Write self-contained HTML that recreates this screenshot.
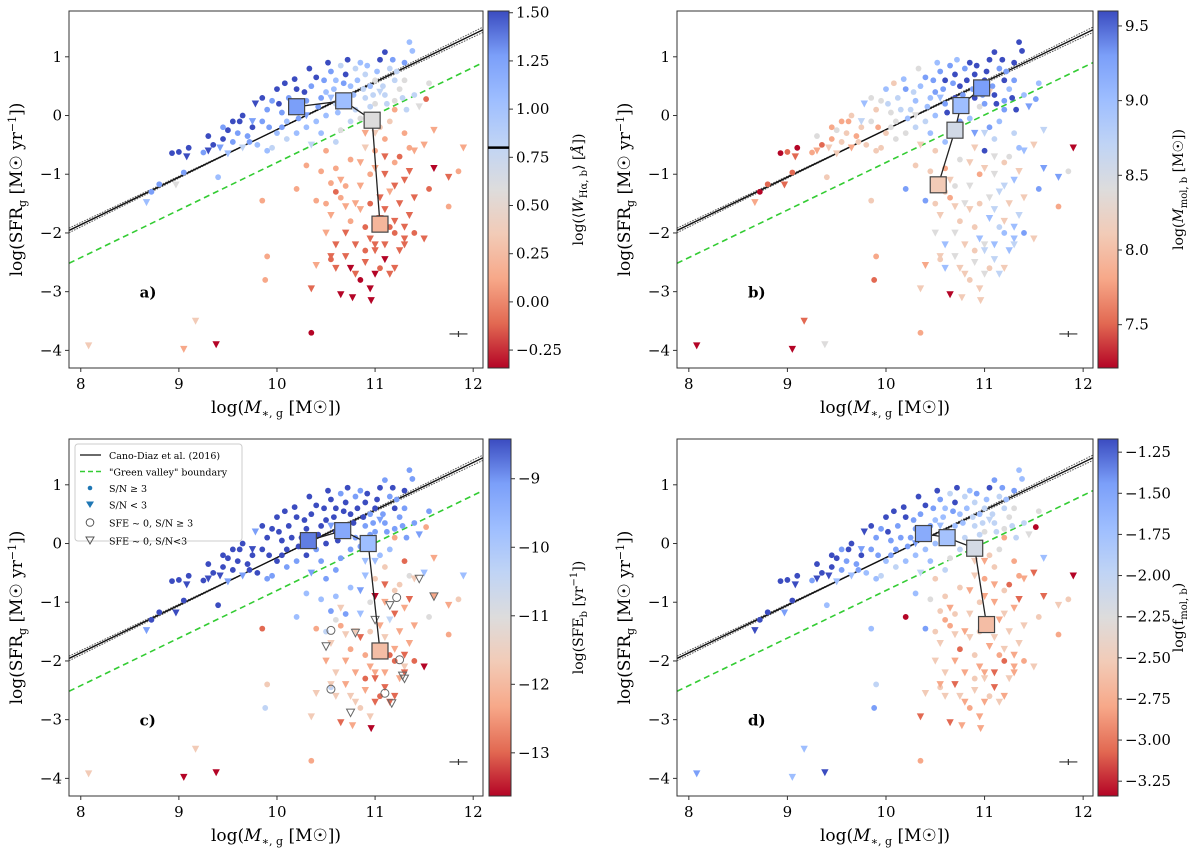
<!DOCTYPE html>
<html><head><meta charset="utf-8"><style>
html,body{margin:0;padding:0;background:#fff}
svg{display:block;font-family:"DejaVu Serif","Liberation Serif",serif}
</style></head><body>
<svg id="fig" width="1200" height="855" viewBox="0 0 1200 855" xmlns="http://www.w3.org/2000/svg"></svg>
<script>
// Shared galaxy positions: logMstar, logSFR, marker(0=circle,1=triangle)
const gx=[9.0,8.93,9.08,9.1,9.05,8.8,8.72,8.67,8.97,9.3,9.25,9.35,9.42,9.45,9.5,9.55,9.6,9.62,9.7,9.75,9.78,9.8,9.85,9.9,9.95,10.0,10.05,10.1,10.12,10.18,10.2,10.25,10.3,10.35,10.4,10.45,10.5,10.55,10.6,10.65,10.7,10.75,10.8,10.85,10.9,10.95,11.0,11.05,11.1,11.15,11.2,11.25,11.3,11.35,11.38,11.3,11.4,11.55,10.6,10.5,10.4,10.3,10.2,10.1,10.0,9.95,9.9,9.5,9.65,9.4,10.35,10.65,10.8,10.9,11.0,11.1,11.2,10.7,10.55,10.85,10.75,
11.0,11.05,11.1,11.15,11.2,11.3,11.35,11.25,11.4,11.5,11.6,11.55,11.75,11.85,11.9,11.6,11.52,10.5,10.6,10.65,10.7,10.75,10.85,10.9,10.95,10.5,10.55,10.6,10.65,10.7,10.75,10.8,10.85,10.9,10.95,11.0,11.05,11.1,11.15,11.2,11.25,11.3,11.35,11.4,11.2,11.1,11.0,10.5,10.55,10.6,10.7,10.75,10.8,10.85,10.9,10.95,11.0,11.05,11.1,11.15,11.2,11.3,10.55,10.4,10.35,10.65,10.77,10.96,11.5,11.75,10.4,10.2,9.9,9.88,9.85,10.3,10.55,10.45,
9.3,9.45,9.55,9.65,9.72,9.85,9.92,10.02,10.08,10.15,10.22,10.28,10.33,10.42,10.48,10.52,10.58,10.62,10.68,10.72,10.78,10.82,10.88,10.92,10.98,11.02,11.08,11.12,11.18,11.22,11.28,11.32,11.45,10.45,10.6,10.3,10.05,9.75,10.95,11.05,
10.9,11.0,11.1,11.2,11.3,11.25,11.15,11.05,10.95,10.85,10.8,10.9,11.0,11.1,11.2,11.3,10.7,10.6,11.4,11.35];
const gy=[-0.62,-0.64,-0.7,-0.55,-0.97,-1.17,-1.3,-1.48,-1.18,-0.6,-0.63,-0.5,-0.55,-0.4,-0.25,-0.45,-0.3,-0.1,-0.35,-0.2,0.2,-0.5,-0.1,0.1,0.25,0.45,0.05,-0.1,0.3,0.62,0.45,0.1,0.25,0.5,0.65,0.3,0.4,0.75,0.6,0.85,0.7,0.5,0.8,0.9,0.7,0.5,0.6,0.95,1.08,0.8,0.6,0.45,0.9,1.25,1.1,0.6,0.35,0.55,0.2,0.0,-0.1,-0.2,-0.3,-0.4,-0.3,-0.55,-0.6,-0.65,-0.55,-1.05,-0.5,-0.25,0.1,0.3,0.2,0.35,0.25,0.3,0.3,-0.05,-0.1,
-0.3,-0.2,-0.4,-0.1,0.1,-0.3,-0.55,-0.7,-0.6,-0.5,-0.9,-1.25,-1.05,-0.95,-0.55,-0.25,0.28,-0.6,-0.9,-1.1,-1.2,-0.75,-0.8,-0.55,-1.0,-1.5,-1.7,-1.3,-1.4,-1.55,-1.8,-1.5,-1.6,-1.9,-2.1,-2.2,-1.4,-1.6,-1.9,-2.0,-2.3,-2.1,-1.7,-2.0,-1.2,-0.7,-0.9,-2.0,-2.45,-2.6,-2.4,-2.6,-2.7,-2.8,-2.5,-2.95,-2.3,-2.6,-2.45,-2.7,-2.6,-2.2,-2.4,-2.55,-2.95,-3.05,-3.1,-3.15,-2.1,-1.55,-1.45,-1.25,-2.4,-2.8,-1.45,-0.85,-1.15,-0.95,
-0.35,-0.2,-0.1,0.0,-0.45,0.3,-0.2,0.2,0.55,0.1,-0.05,0.4,0.8,0.15,0.6,0.9,0.45,0.05,0.55,0.95,0.35,0.6,0.45,0.85,0.35,0.75,0.5,0.2,0.95,0.75,0.3,0.1,0.15,-0.3,-0.45,0.0,-0.2,-0.1,0.15,0.4,
-0.3,-0.6,-1.0,-0.8,-1.1,-1.5,-1.3,-1.75,-1.5,-1.2,-2.2,-2.3,-2.7,-2.2,-1.8,-1.9,-2.0,-2.2,-1.4,-0.95];
const gm=[0,0,1,0,0,0,0,1,1,1,0,0,1,0,0,0,0,0,0,0,1,0,0,0,0,0,0,0,0,0,0,0,0,0,0,0,0,0,0,0,0,0,0,0,0,0,0,0,0,0,0,0,0,0,0,0,0,0,0,0,0,0,0,0,0,0,0,1,1,0,1,0,0,0,0,0,0,0,1,0,0,
1,0,0,0,0,0,0,0,1,1,1,0,1,0,1,1,0,0,0,1,0,0,1,1,0,0,1,0,0,1,0,1,1,0,1,1,1,1,0,0,1,1,1,0,1,1,1,1,0,1,1,1,1,0,1,1,1,0,1,1,1,1,1,1,1,1,1,1,1,0,
0,0,0,0,0,0,0,0,0,0,0,0,0,0,0,0,0,0,0,0,0,0,0,0,0,0,0,0,0,0,0,0,0,0,0,0,0,0,0,0,
1,0,0,1,0,1,0,1,1,0,1,0,1,1,1,1,0,1,1,0];
// Colour levels per panel (0 = bottom of colourbar, 8 = top)
const ca=[8,8,8,8,7,7,7,6,4,8,7,8,7,8,8,7,7,8,7,8,8,6,7,7,7,8,7,6,7,8,8,7,7,7,8,7,6,7,6,5,8,6,5,6,5,6,4,8,8,5,5,4,7,6,6,4,5,4,5,6,6,6,6,5,6,5,6,6,5,6,5,4,5,5,4,5,4,6,6,4,5,
3,3,2,3,2,2,2,1,2,2,0,1,1,2,2,2,1,2,2,2,2,2,2,3,2,2,2,1,2,2,2,2,2,1,1,1,1,1,1,1,1,1,1,1,1,1,2,2,1,1,1,0,1,0,1,0,1,1,0,1,1,1,1,2,1,0,0,0,1,2,2,2,2,2,2,2,2,2,
8,7,8,8,7,8,7,8,8,7,7,8,8,7,7,8,6,6,7,8,6,6,5,6,5,6,5,5,7,5,5,5,4,6,5,7,7,7,5,5,
2,2,1,2,1,1,2,1,1,2,1,1,0,1,1,1,1,1,1,1];
const cb=[1,0,1,0,1,1,0,2,1,2,2,1,3,2,4,3,3,2,2,3,6,3,4,3,4,6,4,4,5,6,7,5,6,6,7,6,7,7,8,7,8,8,7,8,8,7,8,8,8,7,8,6,8,8,8,7,6,6,7,6,5,5,4,4,3,3,3,3,2,3,3,7,7,8,7,8,7,8,6,6,7,
5,7,5,6,7,5,6,4,6,3,7,7,7,4,0,5,7,3,2,3,4,4,3,3,2,3,3,3,2,3,3,4,3,3,6,4,4,5,5,6,6,6,5,7,5,4,3,4,3,6,4,3,3,3,4,3,5,3,5,5,3,5,3,2,3,0,3,3,3,2,7,7,2,1,3,3,3,3,4,2,
2,3,3,4,2,5,3,5,6,5,4,6,7,6,7,8,7,6,7,8,7,8,7,8,7,8,8,7,8,8,7,6,6,4,4,5,4,3,7,8,
4,3,6,3,5,6,3,4,3,3,4,6,3,6,4,6,3,3,6,5];
const cc=[8,8,8,8,8,8,8,7,8,8,8,8,8,8,8,8,8,8,8,8,7,8,8,8,8,8,8,8,8,8,8,8,8,8,8,8,8,8,8,7,8,8,7,7,8,7,8,8,7,7,8,7,8,7,7,7,7,7,8,8,7,8,7,7,8,7,7,7,7,8,7,7,7,7,7,7,7,8,7,7,7,
6,6,3,6,2,1,4,3,3,6,2,4,2,3,6,2,2,7,6,3,7,6,7,6,4,5,3,4,2,3,2,3,1,2,2,2,2,3,1,1,2,3,2,1,1,1,0,2,5,3,2,3,3,3,2,3,1,1,1,1,1,1,3,3,3,1,2,0,0,2,2,6,3,5,1,6,7,6,
8,8,8,8,8,8,8,8,8,8,8,8,8,8,8,8,8,8,8,8,8,8,8,8,7,8,7,7,8,7,7,7,7,7,7,8,8,8,7,7,
6,3,2,3,2,2,5,2,3,6,2,1,1,2,2,1,2,3,2,1];
const cd=[8,8,8,8,8,8,8,8,7,8,7,8,8,8,8,7,7,8,7,8,8,6,7,7,7,8,7,7,7,8,8,7,7,7,8,7,6,7,6,5,8,6,5,6,5,6,5,8,7,5,5,4,7,6,6,4,5,4,5,6,6,6,6,5,6,5,6,6,6,6,5,4,5,5,4,5,4,6,6,4,5,
2,3,3,4,2,2,2,1,2,1,1,3,3,3,0,6,0,3,3,2,3,3,2,3,3,3,3,2,2,3,1,2,3,3,2,2,2,3,2,1,3,2,3,2,3,2,2,3,3,3,1,3,2,2,3,2,3,3,1,3,2,2,2,3,1,1,2,2,3,2,7,0,5,7,6,6,3,4,
8,8,7,8,7,8,7,8,8,7,7,7,8,7,7,8,6,6,7,8,6,6,5,7,5,6,5,5,7,6,5,5,4,6,5,7,7,7,5,5,
3,2,2,3,2,3,2,2,3,3,2,3,2,1,3,2,2,3,3,1];
// low-SFR outliers (separate so markers are explicit)
const outX=[8.08,9.05,9.17,9.38,10.35];
const outY=[-3.92,-3.98,-3.5,-3.9,-3.7];
const outM=[1,1,1,1,0];
const outA=[3,2,3,0,0];
const outB=[0,0,1,4,2];
const outC=[3,0,3,0,2];
const outD=[7,6,6,8,2];
// binned medians per panel: x, y, colour level
const sqA=[[10.2,0.15,7],[10.68,0.25,6],[10.97,-0.08,4],[11.05,-1.85,2.4]];
const sqB=[[10.97,0.47,7],[10.76,0.17,6],[10.7,-0.25,4.4],[10.53,-1.18,3]];
const sqC=[[10.32,0.05,7.4],[10.67,0.22,6.7],[10.93,0.0,6],[11.05,-1.83,2.6]];
const sqD=[[10.38,0.17,6.6],[10.62,0.1,5.8],[10.9,-0.08,4.3],[11.02,-1.38,2.6]];
// open markers (SFE~0) panel c
const openX=[11.22,10.55,10.55,11.1,11.25,10.8,10.5,11.0,10.75,11.17,11.3,11.28,11.6,11.45,11.15];
const openY=[-0.92,-1.48,-2.48,-2.55,-1.98,-1.52,-1.75,-1.3,-2.88,-2.72,-2.3,-2.25,-0.9,-0.6,-1.05];
const openM=[0,0,0,0,0,1,1,1,1,1,1,1,1,1,1];
const xTicks=[8,9,10,11,12];
const yTicks=[1,0,-1,-2,-3,-4];
const cbTicksA=[1.5,1.25,1.0,0.75,0.5,0.25,0.0,-0.25];
const cbTicksB=[9.5,9.0,8.5,8.0,7.5];
const cbTicksC=[-9,-10,-11,-12,-13];
const cbTicksD=[-1.25,-1.5,-1.75,-2.0,-2.25,-2.5,-2.75,-3.0,-3.25];

const NS="http://www.w3.org/2000/svg";
const svg=document.getElementById('fig');
function el(tag,attrs,parent){const e=document.createElementNS(NS,tag);for(const k in attrs)e.setAttribute(k,attrs[k]);(parent||svg).appendChild(e);return e;}
const stops=[[0,[180,4,38]],[0.125,[226,105,82]],[0.25,[247,168,137]],[0.375,[242,203,183]],[0.5,[221,220,220]],[0.625,[192,212,245]],[0.75,[158,190,255]],[0.875,[123,159,249]],[1,[59,76,192]]];
function cmap(t){t=Math.max(0,Math.min(1,t));for(let i=1;i<stops.length;i++){if(t<=stops[i][0]){const a=stops[i-1],b=stops[i];const f=(t-a[0])/(b[0]-a[0]);const c=a[1].map((v,j)=>Math.round(v+(b[1][j]-v)*f));return `rgb(${c[0]},${c[1]},${c[2]})`;}}return 'rgb(59,76,192)';}
function fmt(v,d){const s=v.toFixed(d);return s.replace('-','\u2212');}

const panels=[
 {id:'a',L:69,R:483,T:11,B:368,cb:[488,509],cols:ca,oc:outA,sq:sqA,ticks:cbTicksA,range:[-0.343,1.509],dec:2,cbLabel:'log(⟨<tspan font-style="italic">W</tspan><tspan font-size="10" dy="4">Hα, b</tspan><tspan dy="-4">⟩ [<tspan font-style="italic">Å</tspan>])</tspan>',cbx:583,line:0.8},
 {id:'b',L:677,R:1093,T:11,B:368,cb:[1098,1118],cols:cb,oc:outB,sq:sqB,ticks:cbTicksB,range:[7.21,9.6],dec:1,cbLabel:'log(<tspan font-style="italic">M</tspan><tspan font-size="10" dy="4">mol, b</tspan><tspan dy="-4"> [M<tspan>☉</tspan>])</tspan>',cbx:1183},
 {id:'c',L:69,R:483,T:439,B:796,cb:[489,511],cols:cc,oc:outC,sq:sqC,ticks:cbTicksC,range:[-13.63,-8.42],dec:0,cbLabel:'log(SFE<tspan font-size="10" dy="4">b</tspan><tspan dy="-4"> [yr</tspan><tspan font-size="10" dy="-6">−1</tspan><tspan dy="6">])</tspan>',cbx:583},
 {id:'d',L:677,R:1093,T:439,B:796,cb:[1098,1118],cols:cd,oc:outD,sq:sqD,ticks:cbTicksD,range:[-3.34,-1.17],dec:2,cbLabel:'log(f<tspan font-size="10" dy="4">mol, b</tspan><tspan dy="-4">)</tspan>',cbx:1183}
];
const X0=7.88,X1=12.1,Y0=-4.3,Y1=1.78;
const defs=el('defs',{});
const gr=el('linearGradient',{id:'cmg',x1:0,y1:1,x2:0,y2:0},defs);
stops.forEach(s=>el('stop',{offset:s[0],'stop-color':cmap(s[0])},gr));

function marker(parent,X,Y,m,c){
 if(m===0)return el('circle',{cx:X,cy:Y,r:2.9,fill:c},parent);
 return el('path',{d:`M${X-3.7},${Y-3.3}L${X+3.7},${Y-3.3}L${X},${Y+3.7}Z`,fill:c},parent);
}

panels.forEach(p=>{
 const sx=v=>p.L+(v-X0)/(X1-X0)*(p.R-p.L);
 const sy=v=>p.B-(v-Y0)/(Y1-Y0)*(p.B-p.T);
 const g=el('g',{});
 
 
 const clipId='clip'+p.id;
 const cp=el('clipPath',{id:clipId},defs);el('rect',{x:p.L,y:p.T,width:p.R-p.L,height:p.B-p.T},cp);
 const plot=el('g',{'clip-path':`url(#${clipId})`},g);
 const f=x=>0.81*x-8.34;
 [0.03,-0.03].forEach(o=>{
  const l=el('line',{x1:sx(X0),y1:sy(f(X0)-o*1.3),x2:sx(X1),y2:sy(f(X1)+o*1.5),stroke:'#555','stroke-width':1,'stroke-dasharray':'1.6 1.2'},plot);
  
 });
 const ms=el('line',{x1:sx(X0),y1:sy(f(X0)),x2:sx(X1),y2:sy(f(X1)),stroke:'#111','stroke-width':1.4},plot);
 
 const gv=x=>0.81*x-8.9;
 const gl=el('line',{x1:sx(X0),y1:sy(gv(X0)),x2:sx(X1),y2:sy(gv(X1)),stroke:'#33cc33','stroke-width':1.6,'stroke-dasharray':'6 4'},plot);
 
 for(let i=0;i<gx.length;i++){
  const m=marker(plot,sx(gx[i]),sy(gy[i]),gm[i],cmap(p.cols[i]/8));
  
  
 }
 for(let i=0;i<outX.length;i++){
  const m=marker(plot,sx(outX[i]),sy(outY[i]),outM[i],cmap(p.oc[i]/8));
  
  
 }
 if(p.id==='c'){
  for(let i=0;i<openX.length;i++){
   const X=sx(openX[i]),Y=sy(openY[i]);let m;
   if(openM[i]===0)m=el('circle',{cx:X,cy:Y,r:4,fill:'none',stroke:'#666','stroke-width':1},plot);
   else m=el('path',{d:`M${X-4},${Y-3.5}L${X+4},${Y-3.5}L${X},${Y+4}Z`,fill:'none',stroke:'#666','stroke-width':1},plot);
   
   
  }
 }
 const pts=p.sq.map(s=>sx(s[0])+','+sy(s[1])).join(' ');
 const pl=el('polyline',{points:pts,fill:'none',stroke:'#222','stroke-width':1.3},plot);
 
 p.sq.forEach(s=>{
  const r=el('rect',{x:sx(s[0])-8,y:sy(s[1])-8,width:16,height:16,fill:cmap(s[2]/8),stroke:'#444','stroke-width':1.2},plot);
  
 });
 const ex=sx(11.85),ey=sy(-3.72);
 const ec=el('path',{d:`M${ex-9},${ey}H${ex+9}M${ex},${ey-3}V${ey+3}`,stroke:'#333','stroke-width':1.2},plot);
 
 const pt=el('text',{x:sx(8.6),y:sy(-3.0)+6,'font-size':15,'font-weight':'bold'},g);pt.textContent=p.id+')';
 
 el('rect',{x:p.L,y:p.T,width:p.R-p.L,height:p.B-p.T,fill:'none',stroke:'#333','stroke-width':1},g);
 xTicks.forEach(t=>{const X=sx(t);el('line',{x1:X,y1:p.B,x2:X,y2:p.B+4,stroke:'#333'},g);
  const tx=el('text',{x:X,y:p.B+21,'font-size':15,'text-anchor':'middle'},g);tx.textContent=fmt(t,0);
  });
 yTicks.forEach(t=>{const Y=sy(t);el('line',{x1:p.L-4,y1:Y,x2:p.L,y2:Y,stroke:'#333'},g);
  const tx=el('text',{x:p.L-7,y:Y+5,'font-size':15,'text-anchor':'end'},g);tx.textContent=fmt(t,0);
  });
 const xl=el('text',{x:(p.L+p.R)/2,y:p.B+45,'font-size':17,'text-anchor':'middle'},g);
 xl.innerHTML='log(<tspan font-style="italic">M</tspan><tspan font-size="11" dy="4">∗, g</tspan><tspan dy="-4"> [M☉])</tspan>';
 
 const ylx=p.L-47,yly=(p.T+p.B)/2;
 const yl=el('text',{x:ylx,y:yly,'font-size':17,'text-anchor':'middle',transform:`rotate(-90 ${ylx} ${yly})`},g);
 yl.innerHTML='log(SFR<tspan font-size="11" dy="4">g</tspan><tspan dy="-4"> [M☉ yr</tspan><tspan font-size="11" dy="-6">−1</tspan><tspan dy="6">])</tspan>';
 
 const [c0,c1]=p.cb;
 const cbr=el('rect',{x:c0,y:p.T,width:c1-c0,height:p.B-p.T,fill:'url(#cmg)',stroke:'#333','stroke-width':1},g);
 
 const cy=v=>p.B-(v-p.range[0])/(p.range[1]-p.range[0])*(p.B-p.T);
 p.ticks.forEach(t=>{const Y=cy(t);el('line',{x1:c1,y1:Y,x2:c1+4,y2:Y,stroke:'#333'},g);
  const tx=el('text',{x:c1+7,y:Y+5,'font-size':15},g);tx.textContent=fmt(t,p.dec);
  });
 if(p.line!==undefined){const Y=cy(p.line);el('line',{x1:c0,y1:Y,x2:c1,y2:Y,stroke:'#000','stroke-width':2.5},g);}
 const cbx=p.cbx,cby=(p.T+p.B)/2;
 const cl=el('text',{x:cbx,y:cby,'font-size':14,'text-anchor':'middle',transform:`rotate(-90 ${cbx} ${cby})`},g);
 cl.innerHTML=p.cbLabel;
 
});
const lg=el('g',{});

el('rect',{x:75,y:444,width:167,height:97,rx:3,fill:'#fff','fill-opacity':0.85,stroke:'#ccc'},lg);
const items=[['line','Cano-Diaz et al. (2016)'],['dash','"Green valley" boundary'],['dot','S/N  ≥  3'],['tri','S/N  <  3'],['ocirc','SFE ~ 0, S/N ≥ 3'],['otri','SFE ~ 0, S/N<3']];
items.forEach((it,i)=>{
 const Y=455+i*16.5+(i>=4?(i-3)*1.5:0);
 const e=el('g',{},lg);
 
 if(it[0]==='line')el('line',{x1:80,y1:Y,x2:101,y2:Y,stroke:'#111','stroke-width':1.3},e);
 if(it[0]==='dash')el('line',{x1:80,y1:Y,x2:101,y2:Y,stroke:'#33cc33','stroke-width':1.5,'stroke-dasharray':'5 3'},e);
 if(it[0]==='dot')el('circle',{cx:90,cy:Y,r:2.3,fill:'#1f77b4'},e);
 if(it[0]==='tri')el('path',{d:`M86,${Y-3}L94,${Y-3}L90,${Y+3.5}Z`,fill:'#1f77b4'},e);
 if(it[0]==='ocirc')el('circle',{cx:90,cy:Y,r:3.8,fill:'none',stroke:'#555'},e);
 if(it[0]==='otri')el('path',{d:`M86,${Y-3.5}L94,${Y-3.5}L90,${Y+3.5}Z`,fill:'none',stroke:'#555'},e);
 const t=el('text',{x:109,y:Y+4,'font-size':9.5},e);t.textContent=it[1];
});
</script>
</body></html>
